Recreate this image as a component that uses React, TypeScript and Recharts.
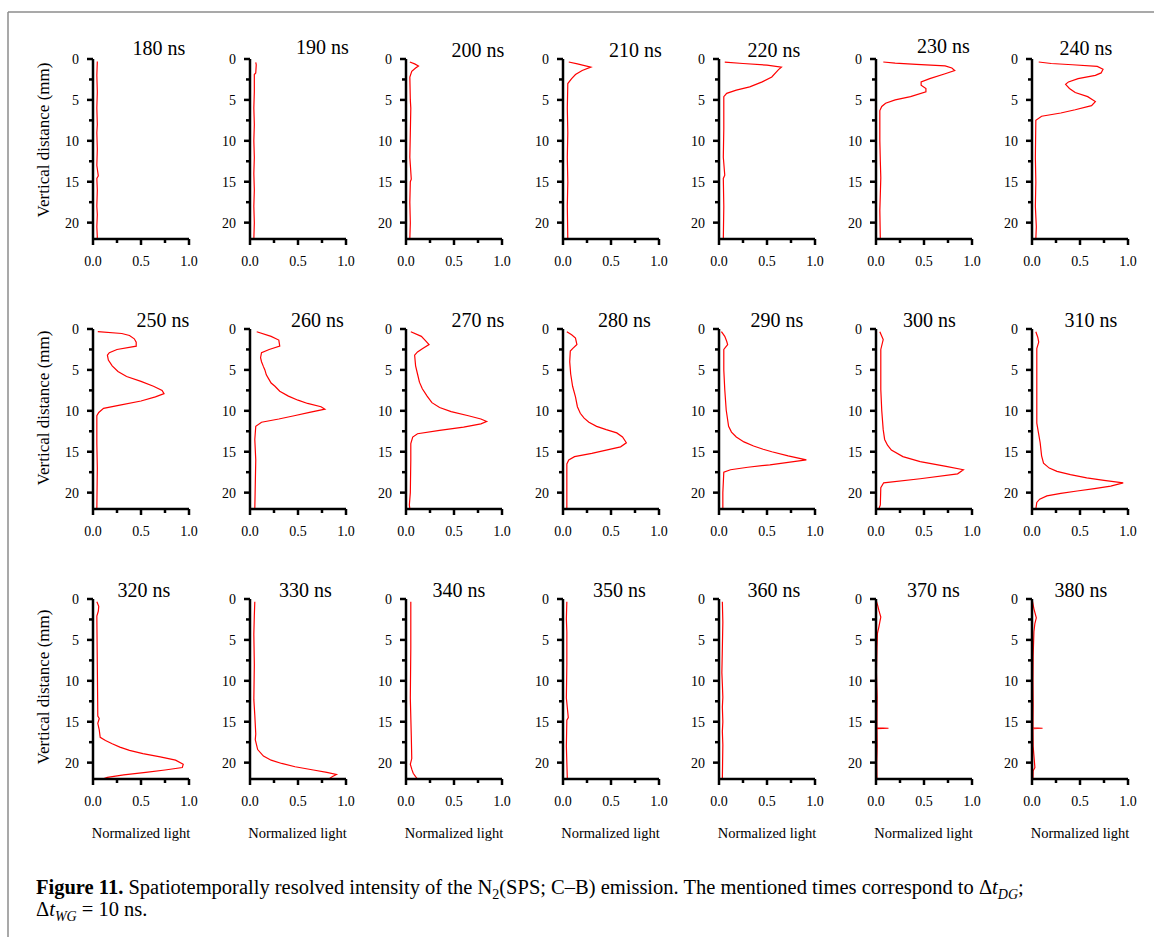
import { LineChart, Line, XAxis, YAxis } from "recharts";

// delay after discharge (ns), one panel each
const times = [180, 190, 200, 210, 220, 230, 240, 250, 260, 270, 280, 290, 300, 310, 320, 330, 340, 350, 360, 370, 380];

// profiles: [vertical distance (mm), normalized light]
const p180: [number, number][] = [[0.3, 0.045], [2, 0.04], [4, 0.045], [6, 0.04], [8, 0.045], [9, 0.04], [11, 0.045], [13, 0.04], [14.3, 0.055], [14.6, 0.04], [16, 0.045], [18, 0.04], [19, 0.045], [20.5, 0.04], [21.8, 0.045], [22, 0.04]];
const p190: [number, number][] = [[0.4, 0.06], [0.7, 0.065], [1.7, 0.06], [1.9, 0.045], [4, 0.045], [6, 0.04], [8, 0.045], [10, 0.04], [12, 0.045], [14, 0.04], [16, 0.045], [18, 0.04], [20, 0.045], [22, 0.04]];
const p200: [number, number][] = [[0.37, 0.04], [0.6, 0.09], [0.85, 0.13], [1.1, 0.1], [1.5, 0.06], [2.2, 0.04], [5, 0.045], [6, 0.05], [9, 0.045], [12, 0.04], [14.7, 0.055], [15, 0.045], [17.5, 0.04], [20, 0.045], [22, 0.04]];
const p210: [number, number][] = [[0.37, 0.06], [0.6, 0.15], [1.0, 0.29], [1.4, 0.2], [1.9, 0.13], [2.4, 0.09], [3.0, 0.05], [6, 0.045], [9, 0.05], [12, 0.045], [15, 0.05], [18, 0.045], [22, 0.05]];
const p220: [number, number][] = [[0.37, 0.06], [0.55, 0.25], [0.75, 0.5], [1.0, 0.65], [1.3, 0.62], [2.2, 0.55], [2.8, 0.45], [3.4, 0.32], [3.8, 0.18], [4.2, 0.08], [4.6, 0.05], [8.5, 0.05], [12, 0.045], [14.2, 0.06], [14.6, 0.045], [18, 0.05], [22, 0.045]];
const p230: [number, number][] = [[0.37, 0.076], [0.5, 0.2], [0.65, 0.42], [0.85, 0.72], [1.1, 0.79], [1.4, 0.82], [1.8, 0.72], [2.4, 0.56], [2.8, 0.47], [3.2, 0.47], [3.6, 0.52], [4.0, 0.52], [4.6, 0.36], [5.0, 0.2], [5.4, 0.1], [5.8, 0.06], [6.3, 0.04], [10, 0.04], [12.5, 0.045], [14.5, 0.05], [16.5, 0.045], [18.5, 0.04], [22, 0.045]];
const p240: [number, number][] = [[0.37, 0.07], [0.55, 0.2], [0.7, 0.42], [0.9, 0.68], [1.25, 0.74], [1.7, 0.72], [2.0, 0.66], [2.4, 0.48], [2.8, 0.38], [3.1, 0.35], [3.6, 0.39], [4.1, 0.45], [4.6, 0.58], [5.2, 0.66], [5.7, 0.62], [6.2, 0.45], [6.6, 0.3], [7.0, 0.1], [7.5, 0.04], [12, 0.035], [15, 0.04], [18, 0.035], [20.5, 0.045], [22, 0.04]];
const p250: [number, number][] = [[0.33, 0.05], [0.55, 0.3], [0.8, 0.38], [1.2, 0.43], [1.6, 0.45], [2.1, 0.45], [2.5, 0.25], [2.9, 0.17], [3.2, 0.15], [3.8, 0.16], [4.5, 0.2], [5.2, 0.26], [5.8, 0.35], [6.4, 0.5], [7.0, 0.63], [7.5, 0.72], [7.9, 0.74], [8.3, 0.65], [8.8, 0.5], [9.3, 0.28], [9.7, 0.11], [10.2, 0.06], [10.6, 0.04], [14, 0.04], [17, 0.045], [22, 0.04]];
const p260: [number, number][] = [[0.33, 0.07], [0.9, 0.22], [1.35, 0.3], [2.1, 0.31], [2.5, 0.2], [2.9, 0.12], [3.5, 0.11], [4.0, 0.12], [4.6, 0.14], [5.0, 0.155], [5.6, 0.17], [6.0, 0.19], [6.6, 0.22], [7.0, 0.26], [7.6, 0.31], [8.2, 0.4], [8.7, 0.5], [9.1, 0.6], [9.5, 0.74], [9.8, 0.78], [10.2, 0.62], [10.6, 0.46], [11.0, 0.3], [11.4, 0.12], [11.9, 0.06], [13.5, 0.05], [16, 0.06], [19, 0.055], [22, 0.05]];
const p270: [number, number][] = [[0.33, 0.05], [0.9, 0.16], [1.4, 0.2], [1.9, 0.24], [2.4, 0.17], [2.8, 0.12], [3.2, 0.09], [4.5, 0.1], [5.5, 0.12], [6.5, 0.14], [7.3, 0.17], [8.2, 0.22], [9.0, 0.27], [9.6, 0.35], [10.1, 0.47], [10.6, 0.65], [11.0, 0.78], [11.3, 0.84], [11.6, 0.78], [12.0, 0.6], [12.4, 0.35], [12.8, 0.12], [13.2, 0.07], [14, 0.05], [16, 0.05], [20, 0.045], [21.5, 0.035], [22, 0.04]];
const p280: [number, number][] = [[0.33, 0.04], [0.7, 0.09], [1.1, 0.13], [1.9, 0.145], [2.4, 0.1], [2.7, 0.076], [4, 0.07], [5.5, 0.08], [7, 0.1], [8.3, 0.13], [9.5, 0.15], [10.3, 0.18], [10.9, 0.22], [11.4, 0.27], [11.9, 0.35], [12.3, 0.45], [12.7, 0.56], [13.2, 0.62], [13.9, 0.66], [14.4, 0.6], [14.8, 0.45], [15.2, 0.3], [15.6, 0.12], [16.0, 0.06], [16.5, 0.04], [19, 0.04], [22, 0.04]];
const p290: [number, number][] = [[0.33, 0.025], [0.9, 0.06], [1.5, 0.08], [1.9, 0.09], [2.5, 0.05], [5, 0.05], [7.4, 0.06], [9.9, 0.075], [11.9, 0.1], [12.6, 0.13], [13.2, 0.18], [13.8, 0.26], [14.3, 0.36], [14.7, 0.46], [15.0, 0.55], [15.5, 0.72], [16.0, 0.91], [16.3, 0.72], [16.6, 0.53], [16.9, 0.3], [17.2, 0.12], [17.5, 0.05], [20, 0.04], [22, 0.04]];
const p300: [number, number][] = [[0.33, 0.04], [1.3, 0.075], [2.5, 0.05], [5, 0.05], [7.4, 0.05], [10, 0.06], [12.3, 0.075], [13.5, 0.09], [14.2, 0.12], [14.8, 0.16], [15.6, 0.28], [16.2, 0.46], [16.8, 0.73], [17.2, 0.91], [17.7, 0.85], [18.3, 0.46], [18.8, 0.08], [19.4, 0.05], [21.5, 0.045], [22, 0.03]];
const p310: [number, number][] = [[0.33, 0.04], [1.0, 0.06], [1.6, 0.07], [2.4, 0.05], [6, 0.05], [11.5, 0.05], [13.9, 0.085], [15.5, 0.1], [16.4, 0.12], [17.0, 0.18], [17.4, 0.26], [17.8, 0.4], [18.2, 0.57], [18.5, 0.75], [18.8, 0.95], [19.2, 0.82], [19.5, 0.65], [19.8, 0.47], [20.1, 0.3], [20.4, 0.155], [20.8, 0.08], [21.2, 0.05], [22, 0.04]];
const p320: [number, number][] = [[0.33, 0.04], [0.9, 0.06], [1.5, 0.055], [2.1, 0.04], [8, 0.045], [14.3, 0.05], [14.6, 0.065], [15.2, 0.05], [16.0, 0.065], [16.9, 0.075], [17.3, 0.13], [17.7, 0.2], [18.1, 0.28], [18.5, 0.38], [18.9, 0.52], [19.3, 0.7], [19.7, 0.86], [20.2, 0.94], [20.6, 0.93], [20.9, 0.75], [21.2, 0.55], [21.5, 0.32], [21.8, 0.15], [22, 0.1]];
const p330: [number, number][] = [[0.33, 0.05], [2, 0.045], [4.3, 0.04], [8, 0.045], [12.3, 0.04], [14.2, 0.05], [16.5, 0.06], [17.2, 0.055], [18.4, 0.08], [19.2, 0.14], [19.7, 0.22], [20.1, 0.33], [20.5, 0.47], [20.9, 0.66], [21.2, 0.8], [21.45, 0.9], [21.7, 0.86], [22, 0.82]];
const p340: [number, number][] = [[0.33, 0.05], [6, 0.05], [12.1, 0.045], [16.7, 0.055], [19.5, 0.06], [20.2, 0.045], [20.8, 0.06], [21.3, 0.075], [21.7, 0.1], [22, 0.12]];
const p350: [number, number][] = [[0.33, 0.04], [2.4, 0.035], [4, 0.04], [8, 0.04], [12.1, 0.035], [14.5, 0.055], [14.8, 0.04], [18, 0.035], [22, 0.045]];
const p360: [number, number][] = [[0.33, 0.035], [2.8, 0.04], [6, 0.035], [9, 0.03], [10.4, 0.035], [12, 0.04], [13.2, 0.035], [15, 0.04], [16.2, 0.035], [17.8, 0.04], [22, 0.035]];
const p370: [number, number][] = [[0.3, 0.005], [0.9, 0.02], [1.4, 0.03], [2.2, 0.05], [2.8, 0.04], [3.4, 0.03], [4.2, 0.015], [6, 0.01], [9, 0.005], [12, 0.012], [14, 0.01], [15.75, 0.01], [15.8, 0.13], [15.85, 0.01], [18, 0.012], [20, 0.008], [22, 0.01]];
const p380: [number, number][] = [[0.3, 0.005], [1.2, 0.02], [2.3, 0.045], [3, 0.03], [4, 0.02], [7, 0.012], [10, 0.01], [13, 0.012], [15.75, 0.01], [15.8, 0.11], [15.85, 0.01], [18, 0.012], [20.6, 0.03], [21, 0.012], [22, 0.01]];

const profiles = [p180, p190, p200, p210, p220, p230, p240, p250, p260, p270, p280, p290, p300, p310, p320, p330, p340, p350, p360, p370, p380];

const xTicks = [0, 0.25, 0.5, 0.75, 1];
const yTicks = [0, 2.5, 5, 7.5, 10, 12.5, 15, 17.5, 20];

// grid layout
const colX = [93, 249.5, 406, 562.5, 719, 875.5, 1032];
const rowY = [59, 329, 599];
const titleDx = [66, 73, 72, 73, 55, 68, 54, 70, 68, 72, 62, 58, 54, 59, 51, 56, 53, 57, 55, 58, 49];
const titleDy = [-4, -5, -2, -2, -2, -6, -4, -2, -2, -2, -2, -2, -2, -2, -2, -2, -2, -2, -2, -2, -2];
const ylabelDy = [81, 79, 88];

const PLOT_LEFT = 40;
const PLOT_TOP = 30;
const PLOT_W = 96;
const PLOT_H = 180;
const SERIF = "'Liberation Serif', 'Times New Roman', serif";

function YTick(props: any) {
  const { y, payload } = props;
  const major = payload.value % 5 === 0;
  return (
    <g>
      <line x1={PLOT_LEFT - (major ? 6 : 4)} x2={PLOT_LEFT} y1={y} y2={y} stroke="#000" strokeWidth={2.5} />
      {major && (
        <text x={PLOT_LEFT - 14} y={y} dy={5} textAnchor="end" fontSize={14} fontFamily={SERIF} fill="#000">
          {payload.value}
        </text>
      )}
    </g>
  );
}

function XTick(props: any) {
  const { x, payload } = props;
  const v = payload.value;
  const major = Math.abs(v * 2 - Math.round(v * 2)) < 1e-6;
  const ay = PLOT_TOP + PLOT_H;
  return (
    <g>
      <line x1={x} x2={x} y1={ay} y2={ay + (major ? 6 : 4)} stroke="#000" strokeWidth={2.5} />
      {major && (
        <text x={x} y={ay + 27} textAnchor="middle" fontSize={14} fontFamily={SERIF} fill="#000">
          {v.toFixed(1)}
        </text>
      )}
    </g>
  );
}

function Panel({ profile, left, top }: { profile: [number, number][]; left: number; top: number }) {
  const data = profile.map(([d, v]) => ({ d, v }));
  return (
    <div style={{ position: "absolute", left: left - PLOT_LEFT, top: top - PLOT_TOP }}>
      <LineChart
        width={PLOT_LEFT + PLOT_W + 14}
        height={PLOT_TOP + PLOT_H + 30}
        data={data}
        margin={{ top: PLOT_TOP, right: 14, bottom: 0, left: 0 }}
      >
        <XAxis
          type="number"
          dataKey="v"
          domain={[0, 1]}
          ticks={xTicks}
          interval={0}
          tick={<XTick />}
          tickLine={false}
          tickSize={0}
          tickMargin={0}
          height={30}
          allowDataOverflow
          axisLine={{ stroke: "#000", strokeWidth: 2.5 }}
        />
        <YAxis
          type="number"
          domain={[0, 22]}
          reversed
          ticks={yTicks}
          interval={0}
          tick={<YTick />}
          tickLine={false}
          tickSize={0}
          tickMargin={0}
          width={PLOT_LEFT}
          allowDataOverflow
          axisLine={{ stroke: "#000", strokeWidth: 2.5 }}
        />
        <Line
          type="linear"
          dataKey="d"
          stroke="#ff0000"
          strokeWidth={1.2}
          dot={false}
          isAnimationActive={false}
        />
      </LineChart>
    </div>
  );
}

export default function App() {
  return (
    <div style={{ position: "absolute", left: 0, top: 0, width: 1154, height: 937, background: "#fff", overflow: "hidden" }}>
      {profiles.map((p, i) => (
        <Panel key={times[i]} profile={p} left={colX[i % 7]} top={rowY[Math.floor(i / 7)]} />
      ))}
      <svg width={1154} height={937} style={{ position: "absolute", left: 0, top: 0, pointerEvents: "none" }}>
        <line x1={8} y1={12} x2={1154} y2={12} stroke="#8c8c8c" strokeWidth={1.5} />
        <line x1={8} y1={12} x2={8} y2={937} stroke="#8c8c8c" strokeWidth={1.5} />
        {times.map((t, i) => (
          <text
            key={t}
            x={colX[i % 7] + titleDx[i]}
            y={rowY[Math.floor(i / 7)] + titleDy[i]}
            textAnchor="middle"
            fontSize={20}
            fontFamily={SERIF}
            fill="#000"
          >
            {t} ns
          </text>
        ))}
        {rowY.map((ry, r) => (
          <text
            key={ry}
            transform={`translate(49, ${ry + ylabelDy[r]}) rotate(-90)`}
            textAnchor="middle"
            fontSize={17}
            fontFamily={SERIF}
            fill="#000"
          >
            Vertical distance (mm)
          </text>
        ))}
        {colX.map((cx) => (
          <text key={cx} x={cx + PLOT_W / 2} y={838} textAnchor="middle" fontSize={14.5} fontFamily={SERIF} fill="#000">
            Normalized light
          </text>
        ))}
        <text x={36} y={894} fontSize={20.5} fontFamily={SERIF} fill="#000">
          <tspan fontWeight="bold">Figure 11.</tspan>
          <tspan> Spatiotemporally resolved intensity of the N</tspan>
          <tspan fontSize={14} dy={5}>2</tspan>
          <tspan dy={-5}>(SPS; C–B) emission. The mentioned times correspond to Δ</tspan>
          <tspan fontStyle="italic">t</tspan>
          <tspan fontStyle="italic" fontSize={14} dy={5}>DG</tspan>
          <tspan dy={-5}>;</tspan>
        </text>
        <text x={36} y={916} fontSize={20.5} fontFamily={SERIF} fill="#000">
          <tspan>Δ</tspan>
          <tspan fontStyle="italic">t</tspan>
          <tspan fontStyle="italic" fontSize={14} dy={5}>WG</tspan>
          <tspan dy={-5}> = 10 ns.</tspan>
        </text>
      </svg>
    </div>
  );
}
